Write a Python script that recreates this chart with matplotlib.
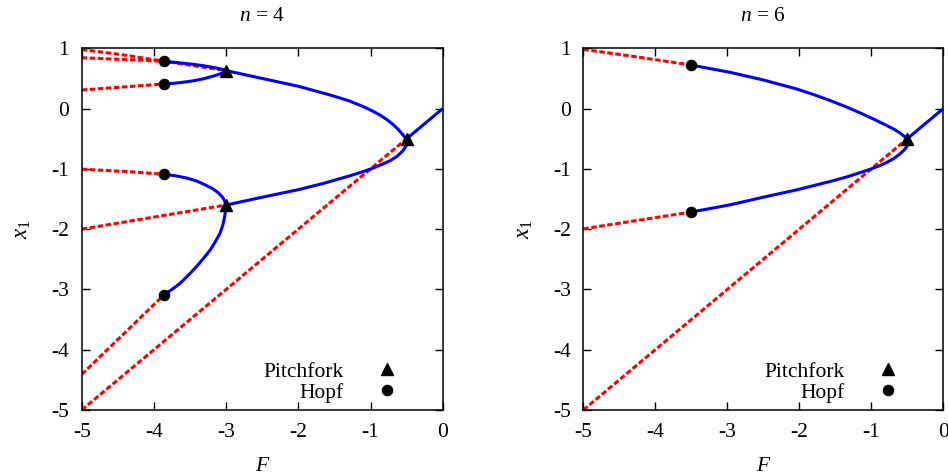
import matplotlib
matplotlib.use('Agg')
import matplotlib.pyplot as plt
from matplotlib.lines import Line2D

plt.rcParams['font.family'] = ['Liberation Serif', 'DejaVu Serif']
plt.rcParams['mathtext.fontset'] = 'custom'
plt.rcParams['mathtext.rm'] = 'Liberation Serif'
plt.rcParams['mathtext.it'] = 'Liberation Serif:italic'
plt.rcParams['axes.unicode_minus'] = False
plt.rcParams['lines.scale_dashes'] = False

# ---------------- data: n = 4 ----------------
n4_triv_unst_F = [-5.0, -0.5]
n4_triv_unst_x = [-5.0, -0.5]
n4_triv_stab_F = [-0.5, 0.0]
n4_triv_stab_x = [-0.5, 0.0]

n4_main_F = [-3.0, -2.75, -2.5, -2.0, -1.56, -1.30, -1.10, -0.98, -0.87, -0.77, -0.68,
             -0.62, -0.57, -0.53, -0.505, -0.497, -0.505, -0.525, -0.56, -0.63, -0.73,
             -0.85, -0.96, -1.10, -1.30, -1.65, -2.0, -2.5, -3.0]
n4_main_x = [0.63, 0.565, 0.50, 0.37, 0.226, 0.13, 0.032, -0.035, -0.106, -0.185, -0.272,
             -0.34, -0.41, -0.465, -0.51, -0.56, -0.61, -0.655, -0.71, -0.79, -0.865,
             -0.93, -0.985, -1.045, -1.12, -1.24, -1.345, -1.47, -1.6]

n4_top_F = [-3.86, -3.72, -3.59, -3.45, -3.32, -3.22, -3.13, -3.06, -3.02, -3.0,
            -3.02, -3.06, -3.13, -3.22, -3.32, -3.45, -3.59, -3.72, -3.86]
n4_top_x = [0.785, 0.768, 0.752, 0.733, 0.712, 0.692, 0.672, 0.652, 0.638, 0.625,
            0.605, 0.585, 0.556, 0.525, 0.493, 0.462, 0.438, 0.42, 0.408]

n4_low_F = [-3.86, -3.70, -3.53, -3.40, -3.30, -3.19, -3.11, -3.05, -3.015, -3.0,
            -3.005, -3.02, -3.045, -3.085, -3.15, -3.22, -3.31, -3.41, -3.52, -3.64,
            -3.75, -3.86]
n4_low_x = [-1.09, -1.115, -1.156, -1.205, -1.26, -1.325, -1.395, -1.47, -1.545, -1.6,
            -1.68, -1.79, -1.93, -2.07, -2.21, -2.345, -2.48, -2.62, -2.76, -2.90,
            -3.0, -3.09]

n4_u1_F = [-5.0, -4.45, -3.86, -3.0]
n4_u1_x = [0.98, 0.895, 0.785, 0.63]
n4_u2_F = [-5.0, -3.86]
n4_u2_x = [0.844, 0.785]
n4_u3_F = [-5.0, -3.86]
n4_u3_x = [0.308, 0.408]
n4_u4_F = [-5.0, -4.36, -3.86]
n4_u4_x = [-1.006, -1.045, -1.09]
n4_u5_F = [-5.0, -3.0]
n4_u5_x = [-2.0, -1.6]
n4_u6_F = [-5.0, -3.86]
n4_u6_x = [-4.41, -3.09]

n4_pitch_F = [-3.0, -3.0, -0.5]
n4_pitch_x = [0.63, -1.6, -0.5]
n4_hopf_F = [-3.86, -3.86, -3.86, -3.86]
n4_hopf_x = [0.785, 0.408, -1.09, -3.09]

# ---------------- data: n = 6 ----------------
n6_triv_unst_F = [-5.0, -0.5]
n6_triv_unst_x = [-5.0, -0.5]
n6_triv_stab_F = [-0.5, 0.0]
n6_triv_stab_x = [-0.5, 0.0]

n6_main_F = [-3.51, -2.963, -2.5, -2.037, -1.8, -1.574, -1.33, -1.111, -0.94, -0.787, -0.68,
             -0.60, -0.54, -0.505, -0.49, -0.495, -0.515, -0.55, -0.61, -0.69, -0.78,
             -0.88, -1.0, -1.111, -1.33, -1.574, -2.037, -2.5, -2.963, -3.51]
n6_main_x = [0.724, 0.602, 0.475, 0.326, 0.232, 0.135, 0.02, -0.095, -0.19, -0.28, -0.345,
             -0.405, -0.46, -0.51, -0.555, -0.6, -0.645, -0.695, -0.76, -0.83, -0.89,
             -0.945, -1.0, -1.045, -1.13, -1.21, -1.348, -1.47, -1.597, -1.718]

n6_u1_F = [-5.0, -4.26, -3.51]
n6_u1_x = [0.983, 0.858, 0.724]
n6_u2_F = [-5.0, -3.51]
n6_u2_x = [-1.995, -1.718]

n6_pitch_F = [-0.5]
n6_pitch_x = [-0.5]
n6_hopf_F = [-3.51, -3.51]
n6_hopf_x = [0.724, -1.718]

xticks = [-5, -4, -3, -2, -1, 0]
yticks = [-5, -4, -3, -2, -1, 0, 1]
titles = ['$n$ = 4', '$n$ = 6']
legend_labels = ['Pitchfork', 'Hopf']

BLUE = '#0000ff'
RED = '#ff0000'
FS = 15.5

stab_kw = dict(color=BLUE, lw=2.2, solid_capstyle='butt', solid_joinstyle='round', zorder=3)
unst_kw = dict(color=RED, lw=2.2, dashes=(4.0, 1.8), zorder=2)

panels = [
    dict(title=titles[0],
         stable=[(n4_triv_stab_F, n4_triv_stab_x), (n4_main_F, n4_main_x),
                 (n4_top_F, n4_top_x), (n4_low_F, n4_low_x)],
         unstable=[(n4_triv_unst_F, n4_triv_unst_x), (n4_u1_F, n4_u1_x), (n4_u2_F, n4_u2_x),
                   (n4_u3_F, n4_u3_x), (n4_u4_F, n4_u4_x), (n4_u5_F, n4_u5_x),
                   (n4_u6_F, n4_u6_x)],
         pitch=(n4_pitch_F, n4_pitch_x), hopf=(n4_hopf_F, n4_hopf_x)),
    dict(title=titles[1],
         stable=[(n6_triv_stab_F, n6_triv_stab_x), (n6_main_F, n6_main_x)],
         unstable=[(n6_triv_unst_F, n6_triv_unst_x), (n6_u1_F, n6_u1_x), (n6_u2_F, n6_u2_x)],
         pitch=(n6_pitch_F, n6_pitch_x), hopf=(n6_hopf_F, n6_hopf_x)),
]

fig = plt.figure(figsize=(9.48, 4.75), dpi=100)
rects = [[0.0862, 0.1368, 0.3808, 0.7615], [0.6153, 0.1368, 0.3797, 0.7615]]

for rect, p in zip(rects, panels):
    ax = fig.add_axes(rect)
    for F, x in p['unstable']:
        ax.plot(F, x, **unst_kw)
    for F, x in p['stable']:
        ax.plot(F, x, **stab_kw)
    ax.plot(p['pitch'][0], p['pitch'][1], linestyle='none', marker='^', ms=8.5,
            color='black', zorder=5, clip_on=False)
    ax.plot(p['hopf'][0], p['hopf'][1], linestyle='none', marker='o', ms=7.3,
            color='black', zorder=5, clip_on=False)
    ax.set_xlim(-5, 0)
    ax.set_ylim(-5, 1)
    ax.set_xticks(xticks)
    ax.set_yticks(yticks)
    ax.tick_params(direction='in', top=True, right=True, length=6, width=1.0,
                   labelsize=FS, pad=9)
    for s in ax.spines.values():
        s.set_linewidth(1.1)
    ax.set_title(p['title'], fontsize=FS, pad=20)
    ax.set_xlabel('$F$', fontsize=FS, labelpad=11)
    ax.set_ylabel('$x_1$', fontsize=FS + 1, labelpad=13)
    handles = [Line2D([], [], linestyle='none', marker='^', ms=8.5, color='black'),
               Line2D([], [], linestyle='none', marker='o', ms=7.3, color='black')]
    ax.legend(handles, legend_labels, loc='lower right', markerfirst=False,
              frameon=False, fontsize=FS, handlelength=1.0, handletextpad=1.5,
              borderpad=0, borderaxespad=0, labelspacing=0.05,
              bbox_to_anchor=(0.875, 0.02))

fig.savefig('out.png', dpi=100)
